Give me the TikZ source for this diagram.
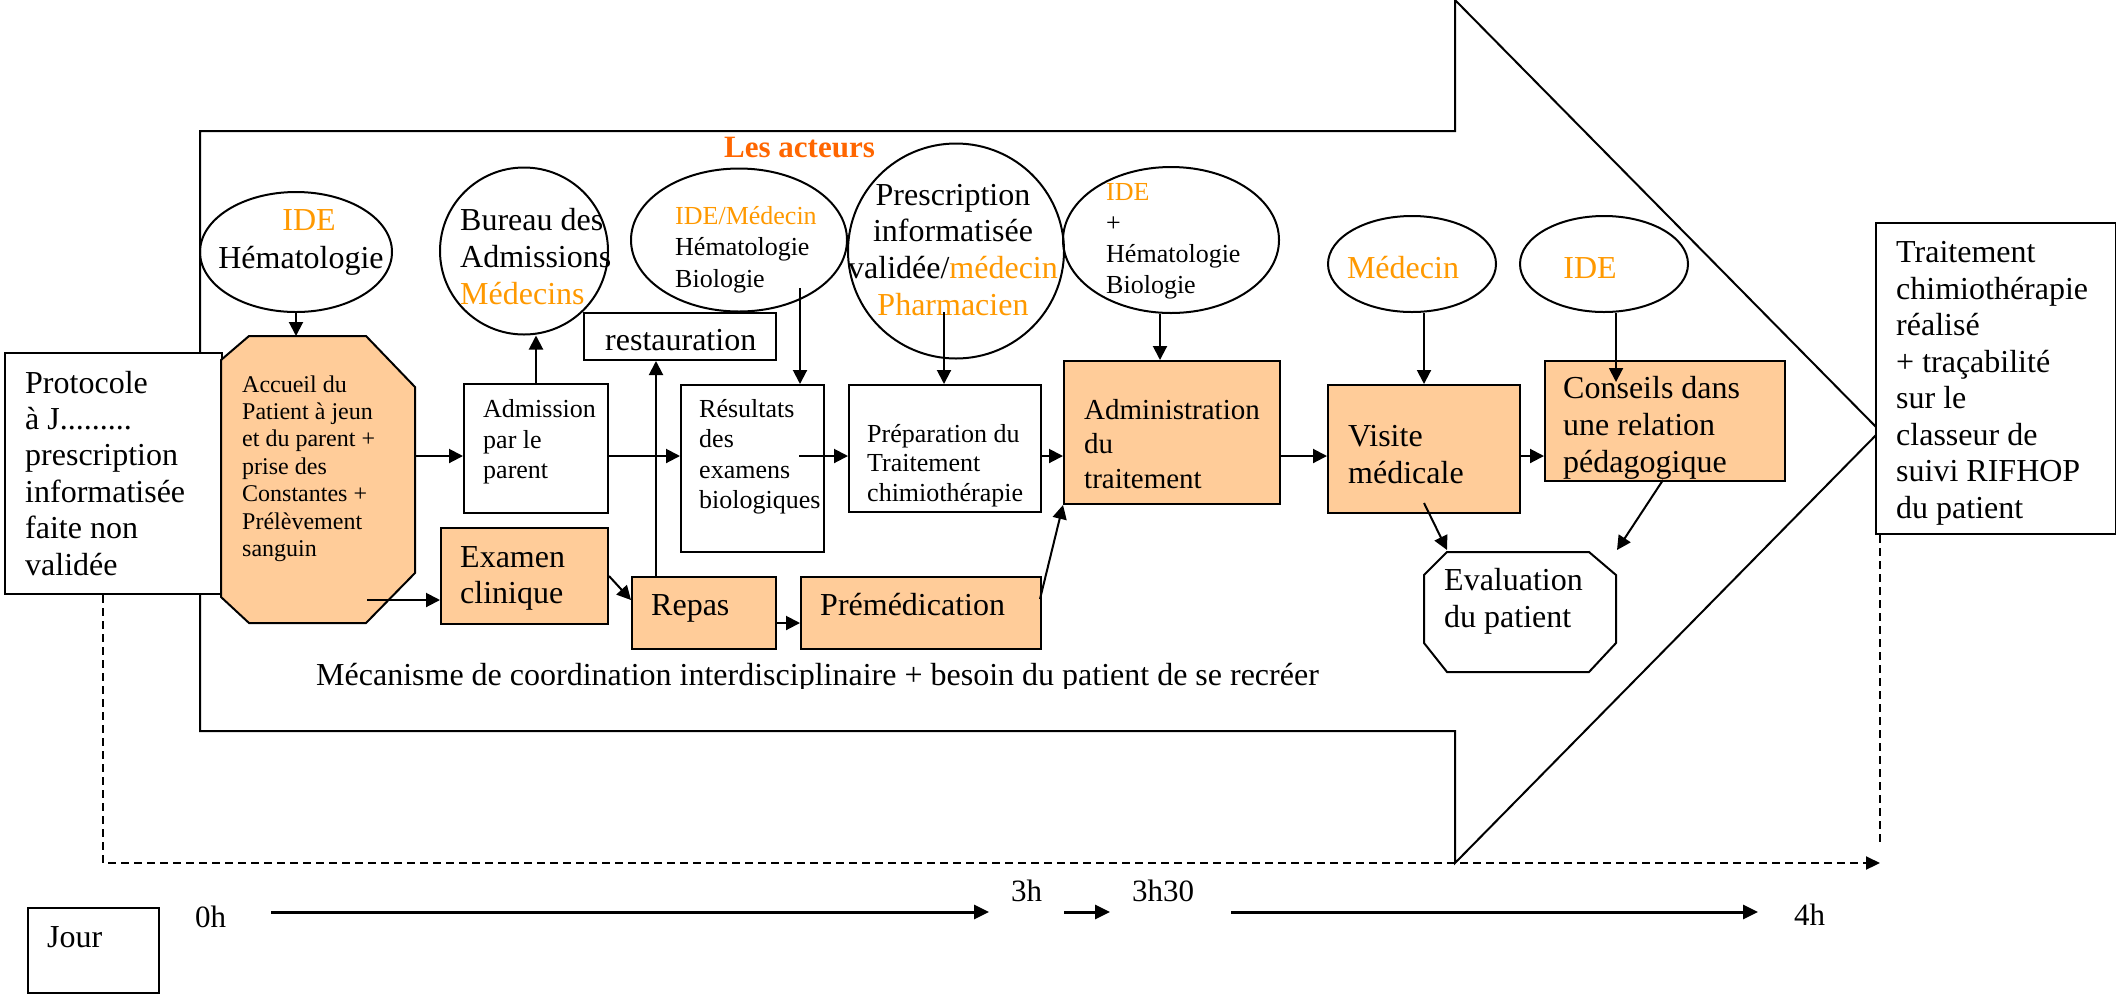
\documentclass[tikz,border=0pt]{standalone}
\usepackage{fontspec}
\setmainfont{Liberation Serif}
\usetikzlibrary{arrows.meta,shapes.geometric}

\definecolor{peach}{HTML}{FFCC99}
\definecolor{lightorange}{HTML}{FF9900}
\definecolor{darkorange}{HTML}{FF6600}

% font size / baseline skip in one go
\newcommand\fsz[2]{\fontsize{#1}{#2}\selectfont}
% stacked lines, first baseline is the box baseline
\newcommand\leftlines[1]{\vtop{\halign{##\hfil\cr#1\crcr}}}
\newcommand\midlines[1]{\vtop{\halign{\hfil##\hfil\cr#1\crcr}}}

\begin{document}
\begin{tikzpicture}[x=1pt,y=-1pt,
  wbox/.style={draw, line width=2pt, fill=white, rectangle, inner sep=0pt, anchor=north west},
  pbox/.style={wbox, fill=peach},
  actor/.style={draw, line width=2pt, ellipse, inner sep=0pt},
  area/.style={rectangle, inner sep=0pt, anchor=north west},
  txt/.style={inner sep=0pt, anchor=base west},
  ctxt/.style={inner sep=0pt, anchor=base},
  arr/.style={line width=2pt, -{Triangle[length=14pt,width=14pt]}},
  tarr/.style={line width=3pt, -{Triangle[length=15pt,width=14pt]}},
  flowline/.style={line width=2pt, dash pattern=on 8pt off 5pt},
  outline/.style={line width=2pt, line join=miter}
]
\useasboundingbox (0,0) rectangle (2116,994);
\fill[white] (0,0) rectangle (2116,994);

% the large process arrow
\draw[outline] (200,131) -- (1455,131) -- (1455,0) -- (1880,431) -- (1455,863)
  -- (1455,731) -- (200,731) -- cycle;

% side boxes
\node[wbox, minimum width=217, minimum height=241] (prot) at (4,352) {};
\node[txt] (protT) at (25,393) {\fsz{32}{36.4}\leftlines{Protocole\cr à J.........\cr prescription\cr informatisée\cr faite non\cr validée}};

\node[wbox, minimum width=240, minimum height=311] (trait) at (1875,222) {};
\node[txt] (traitT) at (1896,262.5) {\fsz{32}{36.5}\leftlines{Traitement\cr chimiothérapie\cr réalisé\cr + traçabilité\cr sur le\cr classeur de\cr suivi RIFHOP\cr du patient}};

% dashed time frame
\coordinate (dashL) at (103,863);
\coordinate (dashR) at (1880,863);
\coordinate (dashRtop) at (1880,843);
\draw[flowline, -{Triangle[length=14pt,width=13pt]}] (prot.south -| dashL) -- (dashL) -- (dashR);
\draw[flowline] (trait.south -| dashR) -- (dashRtop);

% title
\begin{scope}
  \clip (700,110) rectangle (900,158.5);
  \node[txt] (acteurs) at (724,157) {\fsz{31}{36}\bfseries\textcolor{darkorange}{Les acteurs}};
\end{scope}

% actors
\node[actor, minimum width=192, minimum height=120] (ideH) at (296,252) {};
\node[ctxt] (ideHT) at (309,230) {\fsz{32}{36}\textcolor{lightorange}{IDE}};
\node[ctxt] (ideHT2) at (301,268) {\fsz{32}{36}Hématologie};

\node[actor, minimum width=168, minimum height=167] (bureau) at (524,251) {};
\node[txt] (bureauT) at (460,230) {\fsz{32}{37}\leftlines{Bureau des\cr Admissions\cr \textcolor{lightorange}{Médecins}}};

\node[actor, minimum width=216, minimum height=143] (ideM) at (739,240) {};
\node[txt] (ideMT) at (675,224.5) {\fsz{26}{31.3}\leftlines{\textcolor{lightorange}{IDE/Médecin}\cr Hématologie\cr Biologie}};

\node[actor, minimum width=216, minimum height=215] (presc) at (956,251) {};
\node[ctxt] (prescT) at (953,205) {\fsz{32}{36.7}\midlines{Prescription\cr informatisée\cr validée/\textcolor{lightorange}{médecin}\cr \textcolor{lightorange}{Pharmacien}}};

\node[actor, minimum width=216, minimum height=146] (ideB) at (1171,240) {};
\node[txt] (ideBT) at (1106,200) {\fsz{26}{31}\leftlines{\textcolor{lightorange}{IDE}\cr +\cr Hématologie\cr Biologie}};

\node[actor, minimum width=168, minimum height=96] (med) at (1412,264) {};
\node[ctxt] (medT) at (1403,278) {\fsz{32}{36}\textcolor{lightorange}{Médecin}};

\node[actor, minimum width=168, minimum height=96] (ide2) at (1604,264) {};
\node[ctxt] (ide2T) at (1590,278) {\fsz{32}{36}\textcolor{lightorange}{IDE}};

% reception (octagon)
\filldraw[fill=peach, line width=2pt] (249,336) -- (366,336) -- (415,387) -- (415,573)
  -- (366,623) -- (249,623) -- (221,597) -- (221,360) -- cycle;
\node[area, minimum width=194, minimum height=287] (acc) at (221,336) {};
\node[txt] (accT) at (242,392) {\fsz{24}{27.4}\leftlines{Accueil du\cr Patient à jeun\cr et du parent +\cr prise des\cr Constantes +\cr Prélèvement\cr sanguin}};

% process steps
\node[wbox, minimum width=144, minimum height=129] (adm) at (463,383) {};
\node[txt] (admT) at (483,417.5) {\fsz{26}{30.5}\leftlines{Admission\cr par le\cr parent}};

\node[pbox, minimum width=167, minimum height=96] (exam) at (440,527) {};
\node[txt] (examT) at (460,567) {\fsz{32}{36}\leftlines{Examen\cr clinique}};

\node[wbox, minimum width=192, minimum height=47] (rest) at (583,312) {};
\node[txt] (restT) at (605,350) {\fsz{32}{36}restauration};

\node[wbox, minimum width=143, minimum height=167] (res) at (680,384) {};
\node[txt] (resT) at (699,417) {\fsz{26}{30.5}\leftlines{Résultats\cr des\cr examens\cr biologiques}};

\node[wbox, minimum width=192, minimum height=127] (prep) at (848,384) {};
\node[txt] (prepT) at (867,442.5) {\fsz{26}{29.3}\leftlines{Préparation du\cr Traitement\cr chimiothérapie}};

\node[pbox, minimum width=144, minimum height=72] (repas) at (631,576) {};
\node[txt] (repasT) at (651,615) {\fsz{32}{36}Repas};

\node[pbox, minimum width=240, minimum height=72] (premed) at (800,576) {};
\node[txt] (premedT) at (820,615) {\fsz{32}{36}Prémédication};

\node[pbox, minimum width=216, minimum height=143] (admin) at (1063,360) {};
\node[txt] (adminT) at (1084,419) {\fsz{29}{34.5}\leftlines{Administration\cr du\cr traitement}};

\node[pbox, minimum width=192, minimum height=128] (visite) at (1327,384) {};
\node[txt] (visiteT) at (1348,446) {\fsz{32}{37}\leftlines{Visite\cr médicale}};

\node[pbox, minimum width=240, minimum height=120] (cons) at (1544,360) {};
\node[txt] (consT) at (1563,398) {\fsz{32}{37}\leftlines{Conseils dans\cr une relation\cr pédagogique}};

% evaluation (octagon)
\filldraw[fill=white, line width=2pt] (1447,552) -- (1589,552) -- (1616,575) -- (1616,643)
  -- (1589,672) -- (1447,672) -- (1424,643) -- (1424,575) -- cycle;
\node[area, minimum width=192, minimum height=120] (eval) at (1424,552) {};
\node[txt] (evalT) at (1444,590) {\fsz{32}{37}\leftlines{Evaluation\cr du patient}};

% bottom caption
\begin{scope}
  \clip (300,640) rectangle (1340,688);
  \node[txt] (mecaT) at (316,685) {\fsz{32}{36}Mécanisme de coordination interdisciplinaire + besoin du patient de se recréer};
\end{scope}

% connectors
\coordinate (midrow) at (0,456);
\coordinate (lowrow) at (0,623);
\coordinate (accout) at (367,600);
\coordinate (repasin) at (631,600);
\coordinate (mealx) at (656,0);
\coordinate (ideMout) at (800,288);
\coordinate (resout) at (799,456);
\coordinate (prescout) at (944,312);
\coordinate (premout) at (1040,599);
\coordinate (colB) at (1160,0);
\coordinate (colM) at (1424,0);
\coordinate (colI) at (1616,0);
\coordinate (consin) at (1616,382);
\coordinate (visout) at (1424,503);
\coordinate (evalTL) at (1447,550);
\coordinate (consout) at (1663,480);
\coordinate (evalTR) at (1617,550);

\draw[arr] (ideH.south) -- (ideH.south |- acc.north);
\draw[arr] (acc.east |- midrow) -- (adm.west |- midrow);
\draw[arr] (adm.north) -- (adm.north |- bureau.south);
\draw[arr] (accout) -- (exam.west |- accout);
\draw[arr] (adm.east |- midrow) -- (res.west |- midrow);
\draw[arr] (exam.east) -- (repasin);
\draw[arr] (repas.north -| mealx) -- (rest.south -| mealx);
\draw[arr] (ideMout) -- (ideMout |- res.north);
\draw[arr] (resout) -- (prep.west |- midrow);
\draw[arr] (prescout) -- (prescout |- prep.north);
\draw[arr] (repas.east |- lowrow) -- (premed.west |- lowrow);
\draw[arr] (premout) -- (admin.south west);
\draw[arr] (prep.east |- midrow) -- (admin.west |- midrow);
\draw[arr] (ideB.south -| colB) -- (admin.north -| colB);
\draw[arr] (admin.east |- midrow) -- (visite.west |- midrow);
\draw[arr] (med.south -| colM) -- (visite.north -| colM);
\draw[arr] (visite.east |- midrow) -- (cons.west |- midrow);
\draw[arr] (ide2.south -| colI) -- (consin);
\draw[arr] (visout) -- (evalTL);
\draw[arr] (consout) -- (evalTR);

% time scale
\node[wbox, minimum width=131, minimum height=85] (jour) at (27,907) {};
\node[txt] (jourT) at (47,947) {\fsz{32}{36}Jour};
\node[txt] (h0) at (195,927) {\fsz{31}{36}0h};
\node[txt] (h3) at (1011,901) {\fsz{31}{36}3h};
\node[txt] (h330) at (1132,901) {\fsz{31}{36}3h30};
\node[txt] (h4) at (1794,925) {\fsz{31}{36}4h};

\coordinate (tA) at (271,912);
\coordinate (tB) at (989,912);
\coordinate (tC) at (1064,912);
\coordinate (tD) at (1110,912);
\coordinate (tE) at (1231,912);
\coordinate (tF) at (1758,912);
\draw[tarr] (tA) -- (tB);
\draw[tarr] (tC) -- (tD);
\draw[tarr] (tE) -- (tF);
\end{tikzpicture}
\end{document}
